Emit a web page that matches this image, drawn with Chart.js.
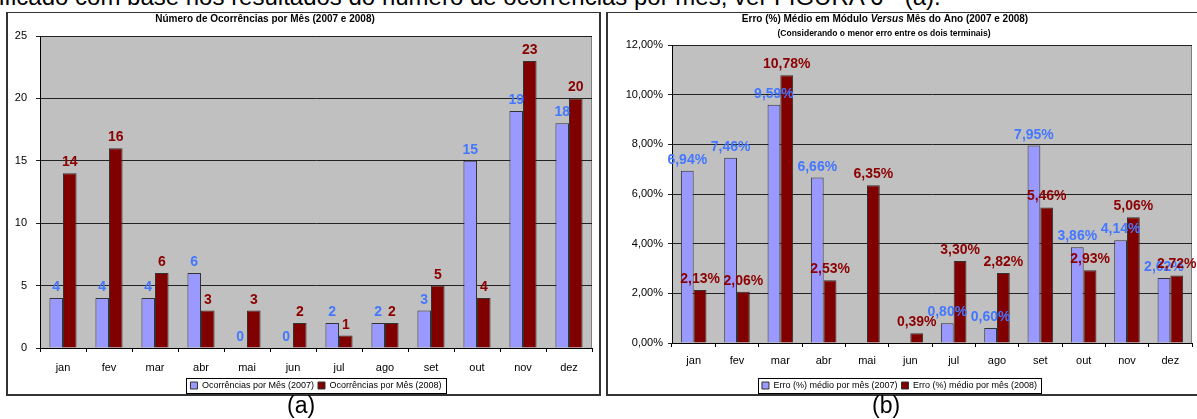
<!DOCTYPE html>
<html lang="pt-BR">
<head>
<meta charset="utf-8">
<title>Ocorrências e Erro Médio por Mês (2007 e 2008)</title>
<script src="https://cdn.jsdelivr.net/npm/chart.js@4.4.1/dist/chart.umd.min.js"></script>
<style>
  body { margin: 0; width: 1197px; height: 419px; overflow: hidden; position: relative; background: #fff;
         font-family: Arial, "Liberation Sans", sans-serif; }
  .texto { position: absolute; white-space: nowrap; color: #000; }
  .moldura { position: absolute; border: 2px solid #333; border-top-width: 1px; box-sizing: border-box; }
  canvas { position: absolute; }
</style>
</head>
<body>
<div class="texto" style="left:-1px; top:-15px; font-size:24px; line-height:24px;">ificado com base nos resultados do número de ocorrências por mês, ver FIGURA 6 - (a).</div>

<div class="moldura" style="left:6px; top:12px; width:595px; height:384px;"></div>
<div class="moldura" style="left:606px; top:12px; width:605px; height:384px;"></div>

<canvas id="graficoOcorrencias" width="592" height="400" style="left:7px; top:12px;"></canvas>
<canvas id="graficoErro" width="602" height="400" style="left:607px; top:12px;"></canvas>

<div class="texto" style="left:287px; top:394px; font-size:23px; line-height:23px;">(a)</div>
<div class="texto" style="left:872px; top:394px; font-size:23px; line-height:23px;">(b)</div>

<script>
// dados
const meses = ['jan', 'fev', 'mar', 'abr', 'mai', 'jun', 'jul', 'ago', 'set', 'out', 'nov', 'dez'];
const ocorrencias2007 = [4, 4, 4, 6, 0, 0, 2, 2, 3, 15, 19, 18];
const ocorrencias2008 = [14, 16, 6, 3, 3, 2, 1, 2, 5, 4, 23, 20];
const erro2007 = [6.94, 7.46, 9.59, 6.66, null, null, 0.80, 0.60, 7.95, 3.86, 4.14, 2.62];
const erro2008 = [2.13, 2.06, 10.78, 2.53, 6.35, 0.39, 3.30, 2.82, 5.46, 2.93, 5.06, 2.72];

const FONTE = 'Arial, "Liberation Sans", sans-serif';
const AZUL = '#9999ff', VERMELHO = '#800000';
const corRotuloAzul = '#4477ff', corRotuloVermelho = '#8b0000';

Chart.defaults.font.family = FONTE;
Chart.defaults.color = '#000';

const porcento = v => v.toFixed(2).replace('.', ',') + '%';

// fundo cinza da área de plotagem
const fundoPlot = {
  id: 'fundoPlot',
  beforeDraw(chart) {
    const { ctx, chartArea: a } = chart;
    ctx.save();
    ctx.fillStyle = '#c0c0c0';
    ctx.fillRect(a.left, a.top, a.right - a.left, a.bottom - a.top);
    ctx.strokeStyle = '#808080';
    ctx.lineWidth = 1;
    ctx.strokeRect(a.left + 0.5, a.top + 0.5, a.right - a.left - 1, a.bottom - a.top);
    ctx.restore();
  }
};

// títulos com trechos em fontes diferentes (ex.: "Versus" em itálico)
const titulos = {
  id: 'titulos',
  afterDraw(chart, args, opts) {
    const ctx = chart.ctx;
    ctx.save();
    ctx.fillStyle = '#000';
    ctx.textBaseline = 'middle';
    ctx.textAlign = 'left';
    (opts.linhas || []).forEach(linha => {
      let total = 0;
      linha.partes.forEach(p => { ctx.font = p.fonte; total += ctx.measureText(p.texto).width; });
      let x = linha.x - total / 2;
      linha.partes.forEach(p => {
        ctx.font = p.fonte;
        ctx.fillText(p.texto, x, linha.y);
        x += ctx.measureText(p.texto).width;
      });
    });
    ctx.restore();
  }
};

// rótulos de valor acima das barras
const rotulos = {
  id: 'rotulos',
  afterDatasetsDraw(chart, args, opts) {
    const ctx = chart.ctx;
    ctx.save();
    ctx.font = 'bold 14px ' + FONTE;
    ctx.textAlign = 'center';
    ctx.textBaseline = 'alphabetic';
    chart.data.datasets.forEach((ds, i) => {
      const meta = chart.getDatasetMeta(i);
      ctx.fillStyle = ds.corRotulo;
      meta.data.forEach((barra, j) => {
        const v = ds.data[j];
        if (v === null || v === undefined) return;
        ctx.fillText(opts.formato(v), barra.x, barra.y - 7);
      });
    });
    ctx.restore();
  }
};

// moldura em volta da legenda
const caixaLegenda = {
  id: 'caixaLegenda',
  afterDraw(chart) {
    const hb = chart.legend.legendHitBoxes;
    if (!hb || !hb.length) return;
    const ultimo = hb[hb.length - 1];
    const ctx = chart.ctx;
    ctx.save();
    ctx.strokeStyle = '#000';
    ctx.lineWidth = 1;
    const x0 = Math.round(hb[0].left - 4) + 0.5;
    const x1 = Math.round(ultimo.left + ultimo.width + 4) + 0.5;
    const y0 = Math.round(hb[0].top - 3) + 0.5;
    ctx.strokeRect(x0, y0, x1 - x0, hb[0].height + 6);
    ctx.restore();
  }
};

function opcoes(cfg) {
  return {
    responsive: false,
    animation: false,
    layout: { padding: cfg.padding },
    plugins: {
      title: { display: false },
      tooltip: { enabled: false },
      legend: {
        position: 'bottom',
        fullSize: cfg.legendaInteira,
        labels: { boxWidth: 7, boxHeight: 7, padding: 4, font: { size: 9 }, color: '#000' }
      },
      titulos: { linhas: cfg.titulos },
      rotulos: { formato: cfg.formato }
    },
    scales: {
      x: {
        grid: { offset: true, drawOnChartArea: false, tickLength: 4, color: '#000' },
        border: { color: '#000' },
        ticks: { font: { size: 11 }, padding: cfg.recuoX, color: '#000' },
        afterFit: s => { s.height = cfg.alturaX; }
      },
      y: {
        min: 0,
        max: cfg.max,
        grid: { color: '#222', tickLength: 4 },
        border: { color: '#000' },
        ticks: { stepSize: cfg.passo, font: { size: 11 }, padding: cfg.recuoY, color: '#000', callback: cfg.formatoEixo },
        afterFit: s => { s.width = cfg.larguraY; }
      }
    }
  };
}

function serie(rotulo, valores, cor, corRotulo) {
  return {
    label: rotulo,
    data: valores,
    backgroundColor: cor,
    borderColor: '#333',
    borderWidth: 1,
    categoryPercentage: 0.59,
    barPercentage: 1.0,
    corRotulo: corRotulo
  };
}

const negrito10 = 'bold 10px ' + FONTE;

const graficoA = new Chart(document.getElementById('graficoOcorrencias'), {
  type: 'bar',
  data: {
    labels: meses,
    datasets: [
      serie('Ocorrências por Mês (2007)', ocorrencias2007, AZUL, corRotuloAzul),
      serie('Ocorrências por Mês (2008)', ocorrencias2008, VERMELHO, corRotuloVermelho)
    ]
  },
  options: opcoes({
    padding: { top: 24, right: 7, bottom: 12, left: 0 },
    legendaInteira: false,
    alturaX: 29,
    larguraY: 33,
    recuoX: 9,
    recuoY: 9,
    max: 25,
    passo: 5,
    formato: v => String(v),
    formatoEixo: v => v,
    titulos: [
      { x: 258, y: 7, partes: [{ texto: 'Número de Ocorrências por Mês (2007 e 2008)', fonte: negrito10 }] }
    ]
  }),
  plugins: [fundoPlot, rotulos, titulos, caixaLegenda]
});

const graficoB = new Chart(document.getElementById('graficoErro'), {
  type: 'bar',
  data: {
    labels: meses,
    datasets: [
      serie('Erro (%) médio por mês (2007)', erro2007, AZUL, corRotuloAzul),
      serie('Erro (%) médio por mês (2008)', erro2008, VERMELHO, corRotuloVermelho)
    ]
  },
  options: opcoes({
    padding: { top: 33, right: 17, bottom: 12, left: 0 },
    legendaInteira: true,
    alturaX: 34,
    larguraY: 65,
    recuoX: 7,
    recuoY: 5,
    max: 12,
    passo: 2,
    formato: porcento,
    formatoEixo: v => porcento(v),
    titulos: [
      { x: 278, y: 7, partes: [
        { texto: 'Erro (%) Médio em Módulo ', fonte: negrito10 },
        { texto: 'Versus', fonte: 'italic bold 10px ' + FONTE },
        { texto: ' Mês do Ano (2007 e 2008)', fonte: negrito10 }
      ] },
      { x: 277, y: 22, partes: [{ texto: '(Considerando o menor erro entre os dois terminais)', fonte: 'bold 8.5px ' + FONTE }] }
    ]
  }),
  plugins: [fundoPlot, rotulos, titulos, caixaLegenda]
});
</script>
</body>
</html>
